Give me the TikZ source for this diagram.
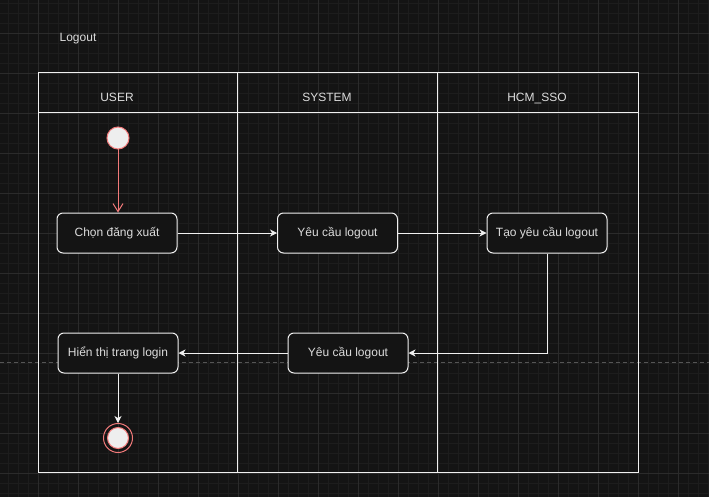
\documentclass[tikz,border=0pt]{standalone}
\usepackage{fontspec}
\setmainfont{Liberation Sans}
\usetikzlibrary{arrows.meta}

\definecolor{bg}{HTML}{141414}
\definecolor{minorline}{HTML}{1D1D1D}
\definecolor{majorline}{HTML}{2B2B2B}
\definecolor{lane}{HTML}{F0F0F0}
\definecolor{txt}{HTML}{DCDCDC}
\definecolor{startred}{HTML}{F27A7A}
\definecolor{dot}{HTML}{EEEEEE}

\tikzset{
  action/.style={draw=lane, line width=1pt, rounded corners=6pt, fill=bg,
    text=txt, minimum width=120pt, minimum height=40pt, inner sep=0pt},
  label/.style={text=txt, inner sep=0pt, anchor=base},
  flow/.style={draw=lane, line width=1pt, -{Stealth[length=7pt,width=7pt,inset=2pt]}},
  startflow/.style={draw=startred, line width=1pt, -{Straight Barb[length=8pt,width=10pt]}}
}

\begin{document}
\begin{tikzpicture}[x=1pt, y=-1pt, font=\fontsize{12}{14}\selectfont]
    \useasboundingbox (0,0) rectangle (709,497);
    \fill[bg] (0,0) rectangle (709,497);

    % Background grid
    \foreach \x in {8,18,...,708} \draw[minorline, line width=0.6pt] (\x,0) -- (\x,497);
    \foreach \y in {3,13,...,497} \draw[minorline, line width=0.6pt] (0,\y) -- (709,\y);
    \foreach \x in {38,78,...,708} \draw[majorline, line width=0.8pt] (\x,0) -- (\x,497);
    \foreach \y in {33,73,...,497} \draw[majorline, line width=0.8pt] (0,\y) -- (709,\y);
    \draw[majorline!80!white, line width=0.8pt, dash pattern=on 4pt off 3pt] (0,362) -- (709,362);

    % Swimlanes
    \draw[lane, line width=1pt] (38,73) rectangle (638,472);
    \draw[lane, line width=1pt] (38,113) -- (638,113);
    \draw[lane, line width=1pt] (237.5,73) -- (237.5,472);
    \draw[lane, line width=1pt] (437.5,73) -- (437.5,472);

    \node[label] (title) at (78,42) {Logout};
    \node[label] (user) at (117,102) {USER};
    \node[label] (system) at (327,102) {SYSTEM};
    \node[label] (sso) at (537,102) {HCM\_SSO};

    % Define states
    \node[circle, draw=startred, line width=1pt, fill=dot, minimum size=22pt, inner sep=0pt] (start) at (118,138) {};
    \node[action] (choose) at (117,233) {Chọn đăng xuất};
    \node[action] (request) at (337.5,233) {Yêu cầu logout};
    \node[action] (create) at (547,233) {Tạo yêu cầu logout};
    \node[action] (reply) at (348,353) {Yêu cầu logout};
    \node[action] (show) at (118,353) {Hiển thị trang login};
    \node[circle, draw=startred, line width=1pt, minimum size=29pt, inner sep=0pt] (stop) at (118,438) {};
    \node[circle, draw=startred, line width=1pt, fill=dot, minimum size=21pt, inner sep=0pt] (stopdot) at (stop) {};

    % Draw transitions
    \draw[startflow] (start) -- (start |- choose.north);
    \draw[flow] (choose) -- (request);
    \draw[flow] (request) -- (create);
    \draw[flow] (create.south) |- (reply.east);
    \draw[flow] (reply) -- (show);
    \draw[flow] (show) -- (stop);
\end{tikzpicture}
\end{document}
